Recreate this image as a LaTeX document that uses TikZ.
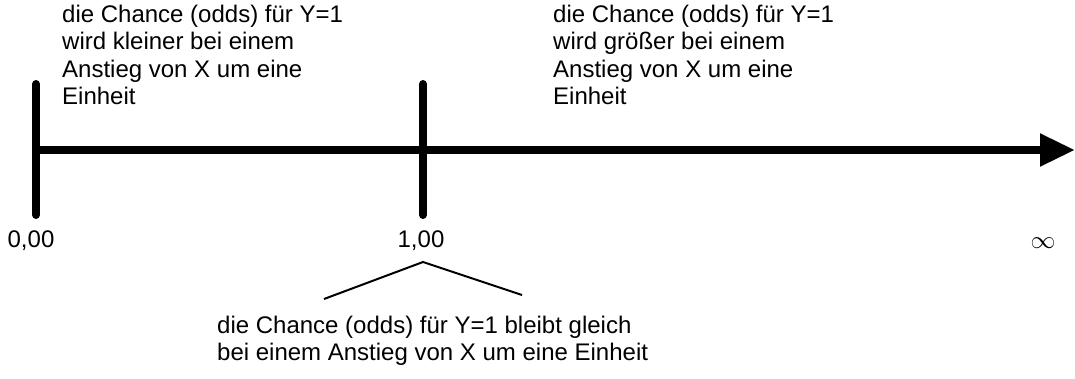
\documentclass[tikz,border=0pt]{standalone}
\usepackage{fontspec}
\setmainfont{Liberation Sans}
\usepackage{tikz}
\usetikzlibrary{arrows.meta}

\begin{document}
\begin{tikzpicture}[
  x=1pt, y=-1pt,
  txt/.style={anchor=north west, align=left, inner sep=0pt,
              font=\fontsize{24}{27.3}\selectfont},
  val/.style={inner sep=0pt, font=\fontsize{24}{27.3}\selectfont},
  axis/.style={line width=8pt, -{Triangle[length=35pt, width=31pt]}},
  tick/.style={line width=8pt, line cap=round},
  brace/.style={line width=2pt}
]
  \useasboundingbox (0,0) rectangle (1075,378);

  % Axis
  \coordinate (start) at (36,150);
  \coordinate (end) at (1075,150);
  \draw[axis] (start) -- (end);

  % Ticks
  \coordinate (t0top) at (36,84);
  \coordinate (t0bot) at (36,215);
  \coordinate (t1top) at (423,84);
  \coordinate (t1bot) at (423,215);
  \draw[tick] (t0top) -- (t0bot);
  \draw[tick] (t1top) -- (t1bot);

  % Values
  \node[val] (zero) at (31,241) {0,00};
  \node[val] (one) at (421,241) {1,00};
  \node[val, font=\fontsize{27}{30}\selectfont] (inf) at (1043,243) {$\infty$};

  % Texts
  \node[txt] (smaller) at (62,5) {die Chance (odds) für Y=1\\wird kleiner bei einem\\Anstieg von X um eine\\Einheit};
  \node[txt] (bigger) at (553,5) {die Chance (odds) für Y=1\\wird größer bei einem\\Anstieg von X um eine\\Einheit};
  \node[txt] (same) at (217,316) {die Chance (odds) für Y=1 bleibt gleich\\bei einem Anstieg von X um eine Einheit};

  % Bracket
  \coordinate (apex) at (423,262);
  \coordinate (bl) at (324,299);
  \coordinate (br) at (522,295);
  \draw[brace] (bl) -- (apex) -- (br);
\end{tikzpicture}
\end{document}
